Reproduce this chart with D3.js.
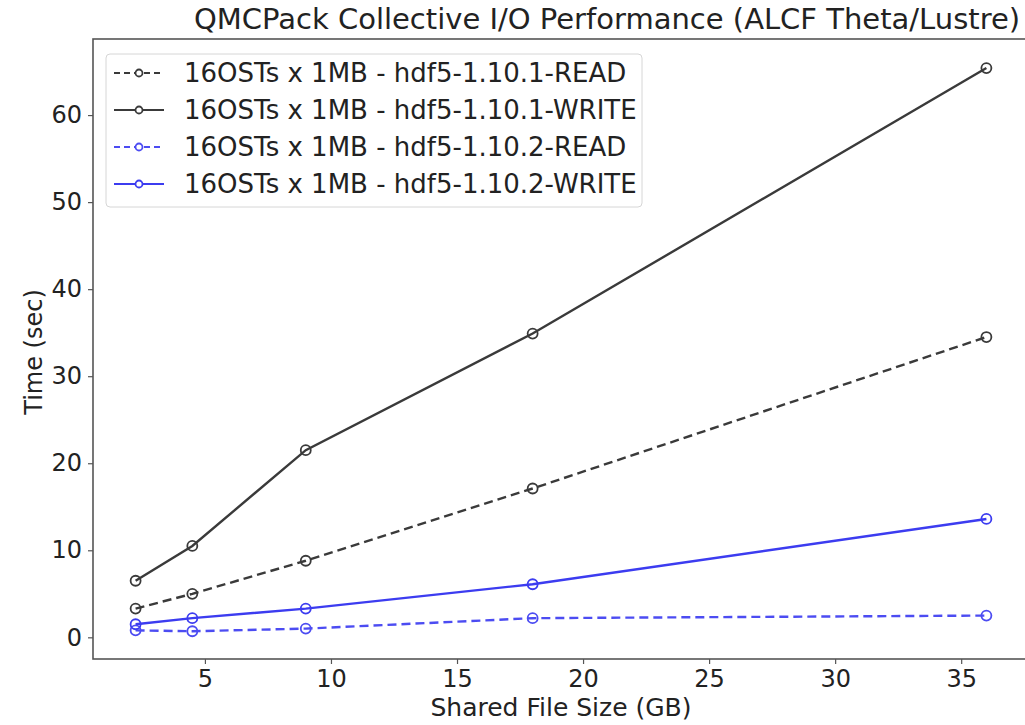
<!DOCTYPE html>
<html>
<head>
<meta charset="utf-8">
<script src="https://cdn.jsdelivr.net/npm/d3@7"></script>
<style>
  body { margin: 0; background: #fff; }
  svg { font-family: "DejaVu Sans", sans-serif; }
</style>
</head>
<body>
<svg id="chart"></svg>
<script>
// data
const sizes = [2.25, 4.5, 9, 18, 36]
const read1101 = [3.3, 5.0, 8.8, 17.1, 34.5]
const write1101 = [6.5, 10.5, 21.5, 34.9, 65.4]
const read1102 = [0.8, 0.7, 1.0, 2.2, 2.5]
const write1102 = [1.5, 2.2, 3.3, 6.1, 13.6]
const seriesNames = [
    '16OSTs x 1MB - hdf5-1.10.1-READ',
    '16OSTs x 1MB - hdf5-1.10.1-WRITE',
    '16OSTs x 1MB - hdf5-1.10.2-READ',
    '16OSTs x 1MB - hdf5-1.10.2-WRITE'
]
const xTicks = [5, 10, 15, 20, 25, 30, 35]
const yTicks = [0, 10, 20, 30, 40, 50, 60]

const width = 1025
const height = 725
const padLeft = 93, padRight = 1029, padTop = 39, padBottom = 659

const series = [
    { name: seriesNames[0], values: read1101, color: '#3a3a3a', dash: '9,5' },
    { name: seriesNames[1], values: write1101, color: '#3a3a3a', dash: null },
    { name: seriesNames[2], values: read1102, color: '#4c4cf2', dash: '9,5' },
    { name: seriesNames[3], values: write1102, color: '#3c3cf0', dash: null }
]

const svg = d3.select('#chart').attr('width', width).attr('height', height)

const xScale = d3.scaleLinear().domain([0.56, 37.69]).range([padLeft, padRight])
const yScale = d3.scaleLinear().domain([-2.49, 68.74]).range([padBottom, padTop])

// axes
const xAxis = d3.axisBottom(xScale).tickValues(xTicks).tickSize(5).tickPadding(6).tickFormat(d3.format('d'))
const yAxis = d3.axisLeft(yScale).tickValues(yTicks).tickSize(5).tickPadding(6).tickFormat(d3.format('d'))

const gx = svg.append('g').attr('transform', `translate(0,${padBottom})`).call(xAxis)
const gy = svg.append('g').attr('transform', `translate(${padLeft},0)`).call(yAxis)
;[gx, gy].forEach(g => {
    g.select('.domain').remove()
    g.selectAll('line').attr('stroke', '#555').attr('stroke-width', 1.2)
    g.selectAll('text').attr('fill', '#222').style('font-size', '24px').attr('font-family', '"DejaVu Sans", sans-serif')
})

// frame
svg.append('rect')
    .attr('x', padLeft).attr('y', padTop)
    .attr('width', padRight - padLeft).attr('height', padBottom - padTop)
    .attr('fill', 'none').attr('stroke', '#555').attr('stroke-width', 1.6)

// lines + markers
const line = d3.line().x((d, i) => xScale(sizes[i])).y(d => yScale(d))

series.forEach(s => {
    svg.append('path')
        .datum(s.values)
        .attr('d', line)
        .attr('fill', 'none')
        .attr('stroke', s.color)
        .attr('stroke-width', 2.4)
        .attr('stroke-dasharray', s.dash)
    svg.append('g').selectAll('circle')
        .data(s.values)
        .enter()
        .append('circle')
        .attr('cx', (d, i) => xScale(sizes[i]))
        .attr('cy', d => yScale(d))
        .attr('r', 5)
        .attr('fill', 'none')
        .attr('stroke', s.color)
        .attr('stroke-width', 1.8)
})

// legend
const legend = svg.append('g').attr('transform', 'translate(106,54)')
legend.append('rect')
    .attr('width', 536).attr('height', 153)
    .attr('rx', 4)
    .attr('fill', '#fff').attr('fill-opacity', 0.85)
    .attr('stroke', '#d6d6d6').attr('stroke-width', 1)

series.forEach((s, i) => {
    const yy = 19 + i * 37
    legend.append('line')
        .attr('x1', 8).attr('x2', 58)
        .attr('y1', yy).attr('y2', yy)
        .attr('stroke', s.color).attr('stroke-width', 2.2)
        .attr('stroke-dasharray', s.dash ? '6,4' : null)
    legend.append('circle')
        .attr('cx', 33).attr('cy', yy).attr('r', 3.5)
        .attr('fill', '#fff').attr('stroke', s.color).attr('stroke-width', 1.8)
    legend.append('text')
        .attr('x', 78).attr('y', yy + 9)
        .attr('fill', '#222')
        .style('font-size', '26px')
        .text(s.name)
})

// title and axis labels
svg.append('text')
    .attr('x', 607).attr('y', 29)
    .attr('text-anchor', 'middle')
    .attr('fill', '#222')
    .style('font-size', '29px')
    .text('QMCPack Collective I/O Performance (ALCF Theta/Lustre)')

svg.append('text')
    .attr('x', 561).attr('y', 716)
    .attr('text-anchor', 'middle')
    .attr('fill', '#222')
    .style('font-size', '25px')
    .text('Shared File Size (GB)')

svg.append('text')
    .attr('transform', 'translate(42,352) rotate(-90)')
    .attr('text-anchor', 'middle')
    .attr('fill', '#222')
    .style('font-size', '24px')
    .text('Time (sec)')
</script>
</body>
</html>
